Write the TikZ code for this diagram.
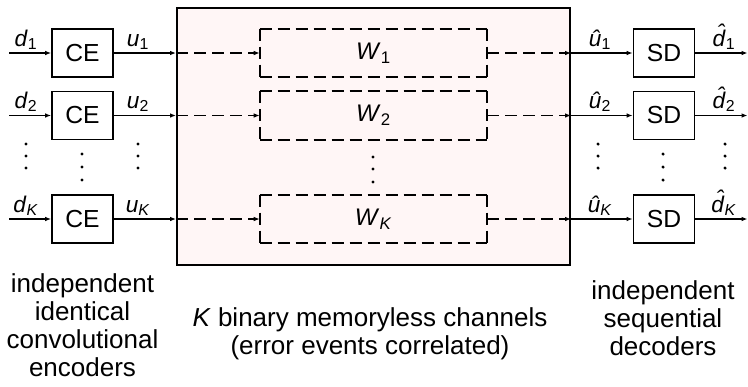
\documentclass[tikz,border=0pt]{standalone}
\usepackage{fontspec}
\setmainfont{Liberation Sans}
\usetikzlibrary{arrows.meta}
\definecolor{chanfill}{RGB}{255,246,246}
% italic d with a circumflex set above its bowl
\newcommand\dhat{\makebox[0pt][l]{\hspace{0.2em}\raisebox{0.24em}{\textit{ˆ}}}\textit{d}}
\begin{document}
\begin{tikzpicture}[x=0.75pt,y=-0.75pt,
  blk/.style={draw,line width=1.3pt,minimum width=45.75pt,minimum height=36pt,
    inner sep=0pt,font=\fontsize{18.5}{20}\selectfont},
  wbox/.style={minimum width=170.25pt,minimum height=36pt,inner sep=0pt,
    font=\fontsize{18}{20}\selectfont},
  wedge/.style={line width=1.4pt,dash pattern=on 9pt off 4.5pt},
  lab/.style={anchor=base,inner sep=0pt,font=\fontsize{17}{19}\selectfont},
  sig/.style={line width=1pt,-{Latex[length=4.5pt,width=3.5pt]}},
  dsig/.style={sig,line width=1.3pt,dash pattern=on 9pt off 4.5pt},
  note/.style={align=center,font=\fontsize{19.5}{21}\selectfont,inner sep=0pt,anchor=base},
]
\useasboundingbox (0,0) rectangle (748,386);

% channel block
\node[draw,line width=1.5pt,fill=chanfill,minimum width=294.75pt,
  minimum height=192.75pt,inner sep=0pt] (chan) at (373.5,136.5) {};

% the K parallel branches
\foreach \r/\y/\s in {1/53/1, 2/115.5/2, K/219/\textit{K}} {
  \coordinate (in\r) at (9,\y);
  \coordinate (out\r) at (747.5,\y);
  \node[blk] (ce\r) at (82.5,\y) {CE};
  \node[blk] (sd\r) at (664,\y) {SD};
  \node[wbox] (w\r) at (373.5,\y) {\textit{W}\textsubscript{\s}};
  \draw[wedge] (w\r.north west) -- (w\r.south west);
  \draw[wedge] (w\r.north east) -- (w\r.south east);
  \draw[wedge] (w\r.north west) -- (w\r.north east);
  \draw[wedge] (w\r.south west) -- (w\r.south east);
  \coordinate (ci\r) at (ce\r.east -| chan.west);
  \coordinate (co\r) at (sd\r.west -| chan.east);
  \draw[sig] (in\r) -- (ce\r.west);
  \draw[sig] (ce\r.east) -- (ci\r);
  \draw[dsig] (ci\r) -- (w\r.west);
  \draw[dsig] (w\r.east) -- (co\r);
  \draw[sig] (co\r) -- (sd\r.west);
  \draw[sig] (sd\r.east) -- (out\r);
  \node[lab] (d\r) at (26,\y-7) {\textit{d}\textsubscript{\s}};
  \node[lab] (u\r) at (138,\y-7) {\textit{u}\textsubscript{\s}};
  \node[lab] (uh\r) at (600,\y-7) {\textit{\^u}\textsubscript{\s}};
  \node[lab] (dh\r) at (724,\y-7) {\dhat\textsubscript{\s}};
}

% vertical ellipses
\foreach \x in {26,138,598,725}
  \foreach \y in {144,156,168} \fill (\x,\y) circle (1.3pt);
\foreach \x in {82,663}
  \foreach \y in {154,167,180} \fill (\x,\y) circle (1.3pt);
\foreach \y in {157,169,182} \fill (373,\y) circle (1.3pt);

% captions (anchored at the baseline of their last line)
\node[note] (encnote) at (82.5,376) {independent\\identical\\convolutional\\encoders};
\node[note] (channote) at (370,354) {\textit{K} binary memoryless channels\\(error events correlated)};
\node[note] (decnote) at (663,355) {independent\\sequential\\decoders};
\end{tikzpicture}
\end{document}
